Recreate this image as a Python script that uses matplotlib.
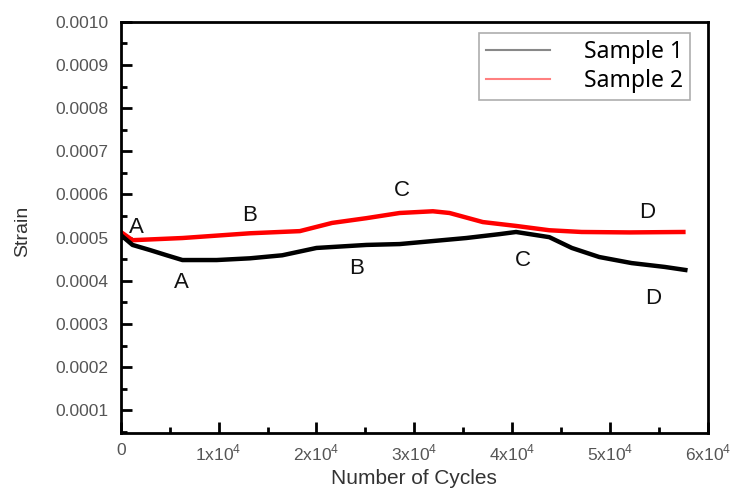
import matplotlib
matplotlib.use("Agg")
import matplotlib.pyplot as plt
from matplotlib.ticker import MultipleLocator

# Data
s1_cycles = [0, 1200, 3000, 4700, 6300, 9800, 13200, 16500, 20000, 25100, 28500,
             31900, 35300, 38700, 40400, 43800, 46100, 48900, 52200, 55600, 57700]
s1_strain = [0.000506, 0.000483, 0.000471, 0.000459, 0.000448, 0.000448, 0.000452,
             0.000459, 0.000476, 0.000483, 0.000485, 0.000492, 0.000499, 0.000508,
             0.000513, 0.000501, 0.000476, 0.000455, 0.000441, 0.000432, 0.000425]

s2_cycles = [0, 1200, 6300, 13200, 18300, 21600, 25100, 28500, 31900, 33600, 37000,
             40400, 43800, 47100, 52000, 57500]
s2_strain = [0.000513, 0.000494, 0.000499, 0.00051, 0.000515, 0.000534, 0.000545,
             0.000557, 0.000561, 0.000557, 0.000536, 0.000527, 0.000517, 0.000513,
             0.000512, 0.000513]

label_text = ["A", "B", "C", "D", "A", "B", "C", "D"]
label_x = [1600, 13200, 28700, 53800, 6200, 24100, 41100, 54400]
label_y = [0.000524, 0.000552, 0.000610, 0.000559, 0.000397, 0.000429, 0.000448, 0.000360]

xtick_vals = [0, 10000, 20000, 30000, 40000, 50000, 60000]
xtick_labels = ["0", r"1x10$^4$", r"2x10$^4$", r"3x10$^4$", r"4x10$^4$", r"5x10$^4$", r"6x10$^4$"]
ytick_vals = [0.0001, 0.0002, 0.0003, 0.0004, 0.0005, 0.0006, 0.0007, 0.0008, 0.0009, 0.0010]
ytick_labels = ["0.0001", "0.0002", "0.0003", "0.0004", "0.0005", "0.0006", "0.0007",
                "0.0008", "0.0009", "0.0010"]

plt.rcParams['font.family'] = ['Liberation Sans', 'DejaVu Sans']
plt.rcParams['mathtext.fontset'] = 'custom'
plt.rcParams['mathtext.rm'] = 'Liberation Sans'

fig = plt.figure(figsize=(7.32, 4.95), dpi=100)
ax = fig.add_axes([0.165, 0.125, 0.802, 0.831])

ax.plot(s1_cycles, s1_strain, color='black', lw=3.2, label='Sample 1', zorder=3)
ax.plot(s2_cycles, s2_strain, color='#ff0000', lw=3.2, label='Sample 2', zorder=2)

for t, x, y in zip(label_text, label_x, label_y):
    ax.text(x, y, t, fontsize=16, ha='center', va='center', color='#111111')

ax.set_xlim(0, 60000)
ax.set_ylim(0.000047, 0.0010)
ax.set_xticks(xtick_vals)
ax.set_xticklabels(xtick_labels)
ax.set_yticks(ytick_vals)
ax.set_yticklabels(ytick_labels)
ax.xaxis.set_minor_locator(MultipleLocator(5000))
ax.yaxis.set_minor_locator(MultipleLocator(0.00005))

ax.tick_params(which='major', direction='in', length=8, width=2, labelsize=12.5,
               labelcolor='#555555', pad=9)
ax.tick_params(axis='x', which='major', pad=7)
ax.tick_params(which='minor', direction='in', length=4, width=2)
ax.tick_params(axis='x', which='both', top=False)
ax.tick_params(axis='y', which='both', right=False)
for sp in ax.spines.values():
    sp.set_linewidth(2)
    sp.set_color('black')

ax.set_xlabel('Number of Cycles', fontsize=15, color='#333333', labelpad=4)
ax.set_ylabel('Strain', fontsize=14, color='#333333')
ax.yaxis.set_label_coords(-0.152, 0.49)

leg = ax.legend(loc='upper right', bbox_to_anchor=(0.97, 0.972),
                prop={'family': ['Noto Sans', 'DejaVu Sans'], 'size': 16.5, 'weight': 'medium'},
                frameon=True, fancybox=False, handlelength=2.8, handletextpad=1.5,
                borderpad=0.3, labelspacing=0.2, borderaxespad=0)
leg.get_frame().set_edgecolor('#999999')
leg.get_frame().set_linewidth(1.2)
leg.legend_handles[0].set_color('#888888')
leg.legend_handles[0].set_linewidth(1.5)
leg.legend_handles[1].set_color('#ff8080')
leg.legend_handles[1].set_linewidth(1.5)

fig.savefig('out.png', dpi=100)
